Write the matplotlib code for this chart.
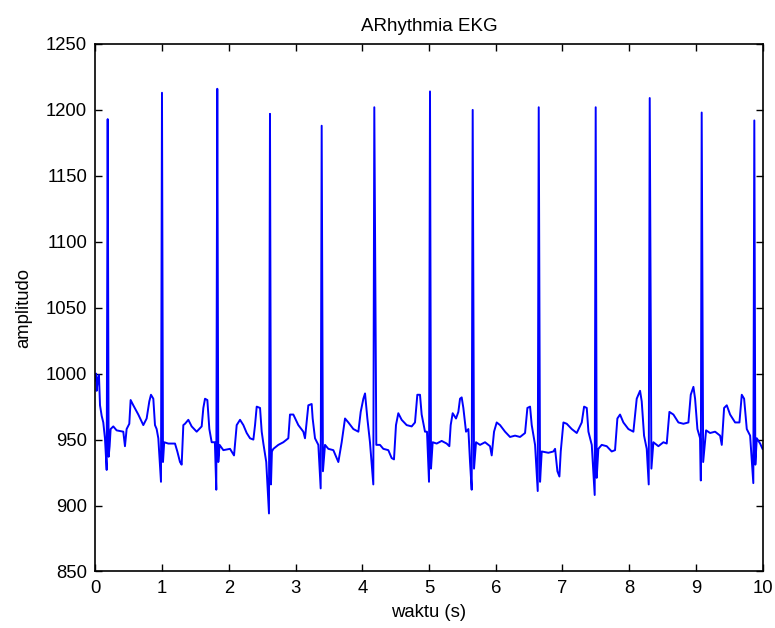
import matplotlib
matplotlib.use("Agg")
import matplotlib.pyplot as plt

# time (s) and amplitude
waktu = [
    0.000, 0.010, 0.018, 0.035, 0.052, 0.068, 0.093, 0.117, 0.142, 0.168, 0.183, 0.197, 0.212, 0.227,
    0.267, 0.317, 0.417, 0.442, 0.467, 0.507, 0.527, 0.567, 0.642, 0.717, 0.767, 0.807, 0.832, 0.867,
    0.892, 0.917, 0.942, 0.982, 0.997, 1.012, 1.030, 1.092, 1.192, 1.227, 1.267, 1.292, 1.317, 1.342,
    1.392, 1.442, 1.517, 1.592, 1.617, 1.642, 1.677, 1.707, 1.742, 1.790, 1.811, 1.826, 1.841, 1.860,
    1.917, 2.017, 2.077, 2.117, 2.167, 2.217, 2.267, 2.317, 2.367, 2.392, 2.417, 2.467, 2.492, 2.517,
    2.560, 2.601, 2.616, 2.631, 2.645, 2.667, 2.741, 2.816, 2.891, 2.916, 2.966, 3.041, 3.116, 3.141,
    3.191, 3.241, 3.256, 3.291, 3.341, 3.376, 3.391, 3.410, 3.441, 3.491, 3.566, 3.616, 3.641, 3.691,
    3.741, 3.791, 3.866, 3.941, 3.976, 4.016, 4.041, 4.076, 4.115, 4.165, 4.180, 4.210, 4.265, 4.315,
    4.390, 4.440, 4.475, 4.505, 4.540, 4.590, 4.665, 4.740, 4.790, 4.825, 4.865, 4.890, 4.940, 4.970,
    5.000, 5.015, 5.030, 5.055, 5.115, 5.190, 5.265, 5.305, 5.325, 5.355, 5.405, 5.440, 5.465, 5.490,
    5.515, 5.555, 5.590, 5.615, 5.640, 5.655, 5.675, 5.705, 5.765, 5.840, 5.915, 5.940, 5.975, 6.015,
    6.065, 6.140, 6.215, 6.290, 6.365, 6.440, 6.475, 6.515, 6.540, 6.590, 6.630, 6.645, 6.665, 6.690,
    6.790, 6.865, 6.890, 6.925, 6.955, 6.975, 7.015, 7.065, 7.140, 7.215, 7.290, 7.325, 7.365, 7.390,
    7.440, 7.484, 7.499, 7.514, 7.539, 7.589, 7.664, 7.739, 7.789, 7.824, 7.864, 7.914, 7.989, 8.064,
    8.114, 8.164, 8.189, 8.224, 8.264, 8.294, 8.309, 8.334, 8.364, 8.439, 8.514, 8.564, 8.604, 8.664,
    8.739, 8.814, 8.889, 8.924, 8.964, 8.989, 9.024, 9.064, 9.075, 9.088, 9.110, 9.154, 9.214, 9.289,
    9.364, 9.389, 9.424, 9.464, 9.514, 9.589, 9.654, 9.689, 9.724, 9.764, 9.814, 9.862, 9.877, 9.892,
    9.914, 9.964, 10.000,
]
amplitudo = [
    995, 1000, 987, 996, 999, 976, 968, 963, 951, 927, 1193, 937, 945, 958,
    960, 957, 956, 945, 958, 962, 980, 976, 969, 961, 966, 979, 984, 981,
    961, 958, 951, 918, 1213, 933, 948, 947, 947, 941, 933, 931, 961, 962,
    965, 960, 956, 960, 974, 981, 980, 958, 948, 948, 912, 1216, 933, 946,
    942, 943, 938, 961, 965, 961, 955, 951, 950, 961, 975, 974, 956, 947,
    933, 894, 1197, 916, 941, 943, 946, 948, 951, 969, 969, 961, 956, 951,
    976, 977, 966, 951, 946, 913, 1188, 926, 946, 943, 942, 936, 933, 948,
    966, 963, 958, 956, 971, 981, 985, 966, 948, 916, 1202, 946, 946, 943,
    942, 936, 935, 961, 970, 965, 961, 960, 963, 984, 984, 969, 956, 956,
    918, 1214, 928, 948, 947, 949, 947, 945, 961, 970, 966, 971, 981, 982,
    974, 956, 958, 933, 912, 1200, 928, 948, 946, 948, 945, 938, 956, 963,
    961, 956, 952, 953, 952, 955, 974, 975, 961, 946, 911, 1202, 918, 941,
    940, 941, 943, 926, 922, 941, 963, 962, 958, 955, 963, 975, 974, 956,
    946, 908, 1202, 921, 943, 946, 945, 941, 942, 966, 969, 963, 958, 956,
    981, 987, 979, 953, 943, 916, 1209, 928, 948, 945, 948, 947, 971, 969,
    963, 962, 963, 984, 990, 981, 958, 951, 919, 1198, 933, 957, 955, 956,
    953, 946, 974, 976, 969, 963, 963, 984, 981, 958, 953, 917, 1192, 931,
    951, 947, 943,
]
x_ticks = [0, 1, 2, 3, 4, 5, 6, 7, 8, 9, 10]
y_ticks = [850, 900, 950, 1000, 1050, 1100, 1150, 1200, 1250]

plt.rcParams['font.family'] = ['Liberation Sans', 'DejaVu Sans']

fig = plt.figure(figsize=(7.75, 6.28), dpi=100)
ax = fig.add_axes([0.1232, 0.0900, 0.8607, 0.8400])
ax.plot(waktu, amplitudo, color='#0000ff', linewidth=1.4)

ax.set_xlim(0, 10)
ax.set_ylim(850, 1250)
ax.set_xticks(x_ticks)
ax.set_yticks(y_ticks)
ax.tick_params(direction='in', length=5, width=1.0, top=True, right=True,
               labelsize=13.3, pad=6, colors='black')
for s in ax.spines.values():
    s.set_linewidth(1.2)
    s.set_color('black')

ax.set_title('ARhythmia EKG', fontsize=13.5, pad=9)
ax.set_xlabel('waktu (s)', fontsize=13.3, labelpad=5)
ax.set_ylabel('amplitudo', fontsize=13.3, labelpad=10)

fig.savefig('out.png', dpi=100)
